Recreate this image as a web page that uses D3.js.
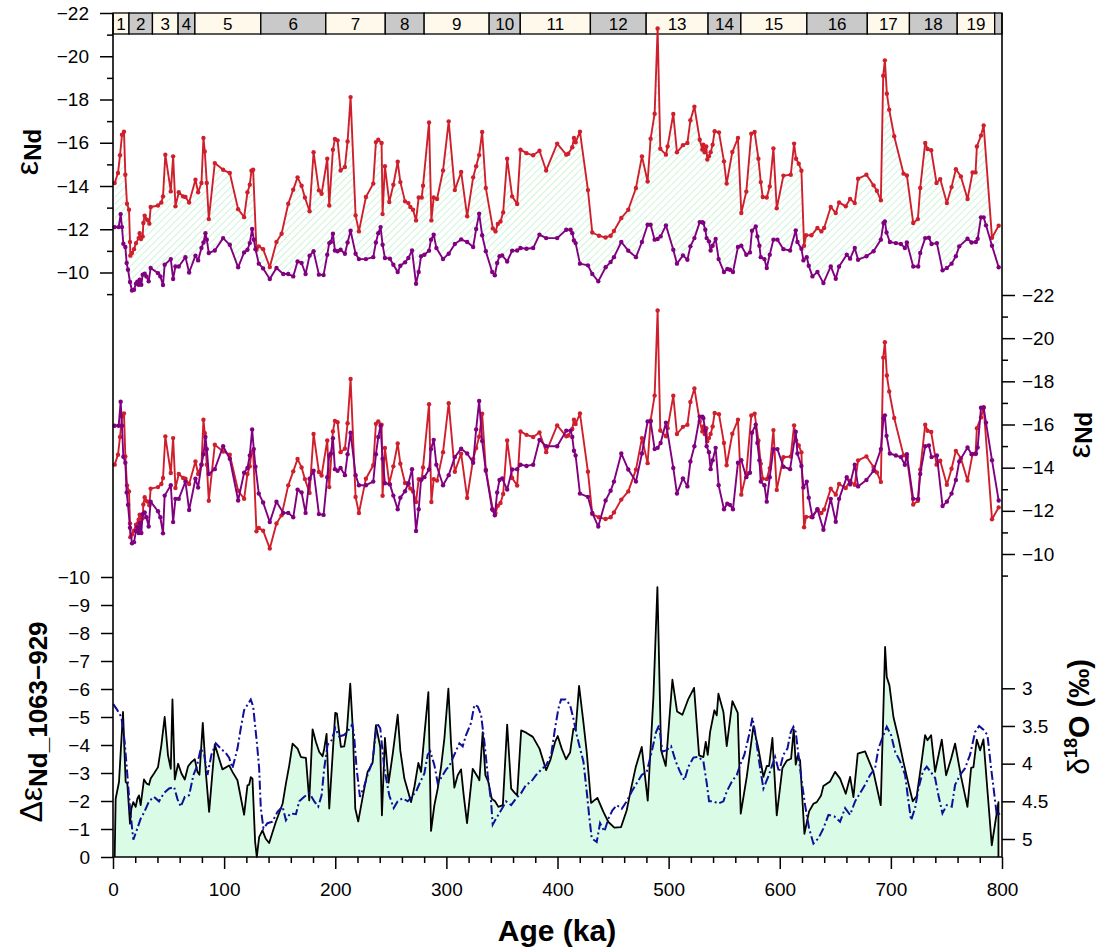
<!DOCTYPE html>
<html>
<head>
<meta charset="utf-8">
<script src="https://cdn.jsdelivr.net/npm/d3@7"></script>
<style>
  body { margin: 0; background: #fff; }
  svg { display: block; }
</style>
</head>
<body>
<svg id="chart" width="1099" height="949"></svg>
<script>
// Marine isotope stages (ka boundaries) and their labels
const misBounds = [0, 14.4, 35.5, 58.6, 73.7, 133, 191.5, 245, 280, 338.5, 366.5, 429.6, 479.8, 535.5, 565, 624.4, 678.8, 716.7, 759.7, 793.4, 800];
const misLabels = ['1','2','3','4','5','6','7','8','9','10','11','12','13','14','15','16','17','18','19',''];

// Site 1063 eNd  [age ka, eNd]
const red1063 = [[1.5,-14.14],[4.5,-14.6],[6.3,-15.42],[8.1,-16.37],[9.9,-16.51],[11.1,-14.52],[12.6,-13.18],[14.4,-12.9],[15.3,-11.41],[15.6,-10.78],[17.1,-10.9],[18.9,-11.08],[20.7,-11.36],[23.1,-11.59],[24,-11.82],[25.2,-11.55],[26.7,-11.67],[27.3,-12.29],[28.5,-12.63],[30.6,-12.44],[32.7,-12.26],[33.9,-13.03],[40.5,-13.1],[43.5,-13.24],[45,-13.52],[47.1,-15.45],[52,-13.75],[54.1,-15.37],[56.2,-13.06],[59.2,-13.71],[63.1,-13.52],[65.2,-13.49],[68.5,-13.24],[74.2,-14.29],[76.6,-13.71],[79.6,-14.14],[81.4,-16.22],[82.6,-15.6],[84.4,-14.14],[86.2,-12.47],[91.6,-15.06],[99.1,-14.75],[105.1,-14.6],[112.6,-12.93],[118,-12.56],[121,-13.71],[123.1,-14.06],[124.6,-14.71],[126.1,-14.75],[129.1,-11.05],[131.2,-11.21],[135.1,-11.08],[141.1,-10.25],[147.1,-11.41],[151.7,-11.79],[157.7,-13.18],[162.2,-13.83],[166.1,-14.4],[169.7,-14.01],[172.7,-13.47],[176.9,-12.83],[180.5,-15.56],[185.3,-13.8],[187.7,-13.64],[192.8,-15.26],[194.6,-13.1],[197.9,-15.68],[199.7,-16.17],[202.1,-16.11],[204.8,-14.72],[208.7,-14.88],[211.1,-16.06],[213.8,-18.11],[218.3,-12.64],[221.3,-11.9],[227.6,-13.49],[234.2,-14.11],[236.6,-16.03],[238.7,-16.14],[241.7,-15.99],[242.6,-12.7],[244.7,-14.91],[248.6,-13.26],[252.3,-14.06],[256.2,-15.12],[258.6,-14.18],[262.8,-13.29],[265.8,-13.21],[267.6,-13.03],[270,-12.9],[272.7,-12.41],[275.1,-13.47],[277.8,-13.47],[279,-14.01],[284.4,-16.94],[286.5,-12.41],[288.6,-13.47],[291.6,-13.4],[297,-14.72],[302.1,-16.99],[307.6,-13.81],[313.3,-14.65],[318.7,-12.6],[324.1,-14.4],[326.8,-14.91],[329.5,-15.43],[332.2,-16.5],[335.5,-13.91],[341.8,-12.04],[344.2,-11.9],[346.3,-12.24],[348.7,-12.36],[351.1,-12.78],[354.7,-15.26],[359.2,-13.52],[363.7,-13.17],[366.7,-15.68],[372.1,-15.52],[378.1,-15.42],[383.8,-15.63],[389.8,-14.72],[399.7,-15.96],[407.9,-15.45],[409.7,-15.49],[413.3,-15.79],[414.8,-16.22],[416.3,-16.02],[420.2,-16.51],[427.4,-13.81],[431.3,-11.85],[437.3,-11.7],[443.3,-11.62],[447.8,-11.7],[450.8,-11.92],[457.4,-12.52],[463.7,-12.9],[470.6,-13.91],[476,-15.37],[481.1,-14.21],[483.8,-16.19],[487.4,-17.34],[490.1,-21.28],[492.5,-15.72],[497.6,-15.45],[499.1,-15.83],[504.2,-17.33],[507.5,-15.56],[512.9,-15.89],[516.9,-15.99],[519.6,-17.04],[523.2,-17.67],[528,-16.14],[530.3,-15.68],[531.2,-15.91],[532.4,-15.56],[533.9,-15.83],[534.8,-15.22],[536.3,-15.37],[537.8,-15.56],[539.6,-15.91],[541.4,-16.53],[545.3,-16.48],[549.8,-15.14],[552.2,-14.11],[557.3,-15.57],[562.4,-16.22],[565.4,-12.75],[569.9,-13.74],[574.4,-16.42],[577.4,-16.5],[580.8,-15.26],[582.9,-14.18],[584.7,-13.49],[588.3,-13.47],[591,-13.98],[594.3,-15.74],[597.3,-12.97],[603.3,-14.48],[609.9,-14.52],[612.9,-15.96],[614.7,-15.26],[617.1,-15.03],[619.5,-14.71],[621.9,-11.24],[623.7,-11.72],[628.5,-11.72],[633.9,-12.06],[637.5,-11.9],[639.9,-12.06],[645.9,-13.03],[650.4,-12.75],[653.4,-13.24],[659.4,-13.06],[663.3,-13.4],[667.5,-13.21],[670.5,-14.34],[678,-14.52],[684.4,-14.03],[687.4,-13.78],[691,-13.34],[693.1,-19.1],[694.6,-19.81],[696.4,-18.27],[698.5,-17.53],[703,-16.3],[711.4,-14.57],[714.4,-14.49],[720.1,-12.29],[724.3,-12.47],[726.4,-13.91],[730.9,-15.99],[733,-15.71],[736.3,-15.65],[741.1,-14.14],[744.4,-14.32],[750.4,-13.21],[754.6,-13.95],[758.5,-14.78],[763,-14.44],[769,-13.4],[773.5,-14.63],[776.2,-14.63],[777.4,-15.83],[781.1,-16.33],[783.5,-16.8],[791,-11.61],[797,-12.16]];

// Site 929 eNd  [age ka, eNd]
const purple929 = [[1.5,-12.1],[5.1,-12.1],[6.9,-12.7],[8.1,-12.1],[9.3,-11.33],[11.1,-11.18],[12.3,-10.44],[13.5,-10.13],[15.3,-9.56],[17.1,-9.17],[18.9,-9.2],[20.7,-9.48],[21.9,-9.57],[23.1,-9.43],[24,-9.67],[25.5,-9.43],[26.7,-9.9],[28.5,-9.94],[30,-9.82],[32.1,-9.59],[33.9,-10.21],[40.5,-9.97],[42.6,-9.82],[45,-9.42],[46.5,-10.36],[52,-10.62],[54.1,-9.7],[56.2,-10.28],[59.2,-10.28],[65.2,-10.71],[68.5,-10],[74.2,-10.78],[76.6,-10.56],[79.6,-11.13],[81.4,-11.39],[83.2,-11.82],[84.4,-11.52],[86.2,-10.9],[91.6,-11.02],[99.1,-11.59],[105.1,-11.28],[112.6,-10.24],[118,-10.93],[121,-11.05],[123.1,-11.36],[125.2,-12.01],[126.7,-11.52],[128.2,-11.08],[131.2,-10.41],[135.1,-10.19],[141.1,-9.7],[147.1,-10.21],[153.2,-9.93],[157.7,-9.93],[162.2,-9.82],[166.1,-10.51],[169.7,-10.44],[173.3,-9.93],[176.9,-10.78],[180.5,-10.98],[185.3,-9.9],[189.5,-9.88],[192.8,-10.82],[194.6,-11.36],[196.1,-11.41],[197.9,-11.79],[199.7,-11.02],[202.1,-10.98],[204.8,-11.05],[208.7,-10.87],[211.1,-11.39],[213.8,-11.93],[218.3,-10.87],[221.3,-10.62],[227.6,-10.62],[234.2,-10.71],[236.6,-11.39],[238.7,-11.82],[240.8,-12.1],[242.6,-11.28],[244.7,-10.67],[249.2,-10.64],[252.3,-10.36],[256.2,-10.02],[258.6,-10.31],[262.8,-10.47],[265.8,-10.67],[269.1,-11.02],[272.7,-9.48],[275.1,-10.02],[277.2,-10.75],[280.2,-10.82],[284.4,-11.01],[286.2,-11.52],[288.6,-11.75],[291,-11.13],[297,-10.62],[302.1,-10.87],[307.6,-11.32],[313.3,-11.53],[318.7,-11.41],[324.1,-11.18],[326.8,-12.01],[329.5,-12.72],[332.2,-11.72],[335.5,-10.98],[341.2,-10.02],[343.6,-9.87],[345.7,-10.44],[347.8,-10.75],[350.2,-10.79],[354.7,-10.51],[359.2,-11.01],[363.7,-11.02],[366.7,-11.13],[372.1,-11.1],[378.1,-11.13],[383.8,-11.75],[389.8,-11.59],[399.7,-11.59],[407.9,-11.98],[411.8,-11.98],[413.3,-11.82],[414.8,-11.48],[416.3,-11.36],[420.2,-10.41],[427.4,-10.33],[431.3,-9.93],[436.7,-9.59],[443.3,-10.24],[447.8,-10.48],[450.8,-10.71],[457.4,-11.41],[463.7,-11.01],[470.6,-10.71],[476,-11.41],[481.1,-12.21],[483.8,-12.21],[487.4,-11.52],[490.1,-11.55],[492.8,-11.67],[497.6,-12.18],[504.2,-11.05],[507.5,-10.41],[512.9,-10.79],[516.9,-10.59],[519.6,-11.21],[523.2,-11.59],[528,-12.33],[530.4,-12.33],[531.2,-12.29],[533,-11.98],[534.2,-11.59],[536.3,-11.44],[537.8,-11.02],[539.6,-11.24],[542.3,-11.55],[545,-10.62],[549.8,-10.02],[552.8,-10.16],[555.2,-10.13],[557.9,-10.02],[562.4,-11.18],[565.4,-11.24],[569.9,-10.82],[573.2,-10.93],[575,-11.93],[578.4,-12.13],[579.9,-11.67],[581.7,-11.24],[582.9,-10.71],[586.2,-10.62],[588.3,-10.21],[591,-10.82],[594.3,-11.52],[597.9,-11.52],[603.3,-11.08],[609.3,-11.02],[614.4,-11.95],[615.9,-11.41],[619.5,-11.1],[621.3,-10.56],[624.3,-10.71],[626.1,-10.31],[629.4,-9.82],[633.9,-10.02],[639.3,-9.51],[645.9,-10.28],[650.4,-9.71],[653.4,-10.28],[660.3,-10.82],[663.3,-10.64],[667.5,-11.13],[670.5,-10.59],[678,-10.75],[684.4,-10.98],[691,-11.52],[693.4,-12.29],[694.6,-12.36],[696.1,-11.85],[699.1,-11.41],[704.5,-11.36],[709,-11.32],[712.6,-11.13],[714.4,-11.39],[720.1,-10.28],[724.6,-10.28],[726.4,-10.9],[730.9,-11.59],[734.2,-11.61],[736.6,-11.32],[741.4,-11.36],[746.5,-10.1],[750.4,-10.21],[754.6,-10.41],[758.5,-10.75],[761.5,-11.21],[769,-11.56],[772.6,-11.39],[776.5,-11.41],[778.1,-11.56],[781.1,-12.55],[783.5,-12.55],[785.6,-12.18],[791,-11.24],[797,-10.24]];

// Delta eNd 1063-929  [age ka, delta]
const delta1063929 = [[1.5,0],[2.4,-2.08],[5.4,-2.68],[9,-5.18],[11.4,-2.68],[12.9,-2.62],[15.3,-1.19],[16.5,-1.73],[18.3,-1.96],[20.4,-1.79],[21.9,-2.08],[23.4,-2.2],[24.9,-1.85],[27.9,-2.77],[30.3,-2.62],[32.4,-2.58],[33.9,-2.8],[36.9,-2.98],[40.5,-3.21],[43.5,-3.99],[46.5,-5],[49.5,-3.63],[52,-3.15],[53.5,-5.63],[55.6,-2.77],[58.6,-3.33],[61.6,-2.98],[64.6,-2.77],[67.6,-3.24],[70.6,-3.39],[73.6,-3.49],[76,-3.04],[77.8,-2.94],[80.8,-4.79],[83.5,-3.04],[86.5,-1.61],[91.6,-4.02],[95.5,-3.51],[98.5,-3.13],[104.5,-3.27],[107.5,-3.04],[112,-2.74],[118,-1.51],[121,-2.56],[122.5,-2.58],[124,-2.85],[125.5,-2.8],[127.9,-0.54],[129.4,0],[131.5,-0.71],[134.5,-0.95],[137.5,-0.65],[140.5,-0.5],[146.5,-1.25],[152.6,-1.9],[155.6,-2.62],[158.6,-3.27],[161.6,-4.05],[166.1,-3.87],[169.1,-3.57],[173.6,-3.54],[176.6,-2.02],[179.6,-4.56],[182.6,-4.11],[185.6,-3.75],[188.6,-3.6],[190.1,-3.87],[192.2,-4.4],[194.6,-1.73],[197.6,-3.63],[200,-5.15],[201.5,-5.12],[205.1,-3.93],[208.1,-3.95],[210.5,-4.52],[213.5,-6.19],[215.9,-4.52],[218,-1.73],[220.7,-1.27],[225.5,-2.32],[229.1,-3.04],[233.6,-3.36],[236.6,-4.7],[240.5,-3.93],[242,-1.49],[244.7,-4.25],[248,-2.65],[251.7,-3.67],[256.2,-5.08],[258.6,-3.79],[262.2,-2.8],[268.2,-1.96],[271.2,-2.5],[274.8,-3.36],[277.2,-3.04],[280.2,-4.35],[283.8,-5.89],[286.2,-0.93],[289.2,-1.85],[292.2,-2.44],[295.2,-3.21],[298.2,-4.23],[301.8,-6.01],[304.2,-4.05],[307.2,-2.48],[310.2,-2.92],[313.2,-3.13],[315.6,-2.2],[318.6,-1.21],[323.7,-3.15],[328.2,-2.86],[329.7,-2.74],[332.7,-4.46],[335.1,-2.92],[337.8,-2.68],[340.8,-2.08],[343.8,-1.99],[346.8,-1.79],[350.8,-1.85],[354.7,-4.73],[358.3,-2.44],[361.3,-2.3],[363.7,-2.2],[367.3,-4.52],[371.8,-4.44],[377.8,-4.29],[383.8,-3.87],[389.8,-3.1],[393.7,-3.48],[397.8,-4.11],[400.2,-4.32],[403.8,-3.87],[407.7,-3.49],[411.3,-3.73],[414.3,-4.58],[416.4,-4.56],[419.4,-6.11],[423.3,-4.82],[426.3,-3.75],[430.2,-1.93],[435.9,-2.11],[441.3,-1.61],[445.8,-1.25],[451.2,-1.05],[457.2,-1.07],[462.3,-1.67],[466.2,-2.44],[470.4,-3.21],[475.8,-3.93],[481.2,-2.01],[486.3,-5.71],[489.9,-9.64],[493.2,-3.81],[497.4,-3.25],[503.4,-6.33],[507.6,-5.2],[512.4,-5.08],[517.8,-5.65],[522.9,-6.04],[527.4,-3.63],[531.3,-3.57],[533.4,-4.11],[535.2,-3.65],[537.3,-4.46],[541.2,-5.24],[543.3,-5.06],[544.8,-5.83],[549.3,-5.18],[552.3,-3.96],[557.4,-5.57],[562.2,-5.15],[564.9,-1.55],[570.3,-2.86],[576.3,-4.67],[580.8,-3.87],[585.3,-2.86],[588.3,-3.25],[590.4,-3.25],[593.4,-4.25],[597.3,-1.49],[602.4,-3.18],[606.3,-3.44],[610.2,-3.51],[612.6,-4.56],[614.4,-3.3],[616.2,-3.63],[618.3,-3.45],[622.2,-0.83],[626.4,-1.63],[630.3,-1.9],[633.3,-1.96],[637.2,-2.2],[639.3,-2.54],[645.3,-2.7],[649.8,-3.04],[654.3,-2.8],[659.4,-2.26],[663.3,-2.86],[666.3,-2.14],[670.2,-3.69],[676.8,-3.77],[684.3,-3.04],[690.9,-1.85],[694.8,-7.5],[696.3,-6.43],[698.7,-6.13],[702.3,-5],[706.8,-4.25],[711.3,-3.39],[715.8,-2.62],[719.7,-1.99],[723.3,-2.18],[727.2,-3.27],[730.8,-4.35],[732.9,-4.17],[736.2,-4.35],[739.8,-3.04],[745.8,-4.19],[749.7,-2.92],[754.2,-3.51],[757.8,-4.05],[763.2,-2.86],[768.9,-1.79],[772.2,-3.18],[774.3,-3.21],[777.3,-4.19],[780.3,-3.81],[783.3,-4.2],[786.3,-2.68],[790.8,-0.42],[793.8,-1.19],[796.8,-1.96],[796.8,0]];

// benthic d18O stack  [age ka, permil]
const d18O = [[0.3,3.21],[3.9,3.29],[7.5,3.38],[10.5,3.71],[12.9,4.15],[15.3,4.59],[18.3,5.01],[21.9,4.86],[24.9,4.73],[27.9,4.65],[32.4,4.5],[36.9,4.44],[41.4,4.5],[45.9,4.39],[50.5,4.33],[55,4.31],[58,4.47],[61,4.57],[64.6,4.44],[68.5,4.42],[72.4,4.15],[75.4,4.04],[79,3.8],[82,3.88],[85,4.15],[88.6,3.88],[92.5,3.73],[97,3.8],[101.5,3.86],[104.5,3.92],[107.5,4.06],[112,3.8],[115,3.53],[118,3.29],[121,3.22],[124,3.15],[126.1,3.24],[129.4,3.71],[131.5,4.06],[133,4.59],[135.4,4.86],[139,4.79],[143.5,4.77],[148,4.64],[152.6,4.57],[155.6,4.75],[159.5,4.66],[164.6,4.67],[167.6,4.5],[172.1,4.44],[176.6,4.39],[181.1,4.5],[184.7,4.57],[187.7,4.42],[190.1,4.06],[193.1,3.75],[196.7,3.69],[200,3.53],[203.6,3.64],[207.8,3.62],[210.8,3.58],[215.3,3.48],[216.8,3.6],[219.2,4.06],[222.2,4.44],[225.8,4.31],[229.1,4.15],[233.6,3.97],[237.5,3.46],[240.5,3.53],[244.1,4.06],[248.6,4.42],[252.6,4.59],[256.2,4.5],[260.7,4.46],[265.2,4.5],[268.2,4.45],[272.7,4.37],[276.6,4.24],[280.2,4.13],[283.2,3.88],[285.6,3.84],[289.2,4.02],[292.2,4.26],[295.2,4.19],[299.7,4.08],[302.7,4.03],[307.2,3.88],[311.7,3.73],[314.7,3.77],[317.7,3.62],[322.2,3.46],[325.2,3.22],[328.2,3.24],[331.2,3.35],[334.2,3.71],[337.2,4.15],[340.2,4.5],[341.7,4.81],[344.7,4.73],[349.2,4.62],[353.7,4.5],[358.3,4.55],[362.8,4.46],[367.3,4.39],[371.8,4.28],[376.3,4.24],[380.8,4.15],[385.3,4.08],[389.8,4.02],[394.3,3.88],[397.8,3.53],[400.8,3.27],[403.2,3.15],[407.4,3.15],[411.3,3.22],[414.3,3.4],[417.3,3.62],[420.3,3.8],[423.3,3.97],[426.3,4.37],[428.4,4.68],[430.8,4.99],[435.3,5.04],[438.3,4.79],[442.2,4.9],[445.8,4.73],[449.4,4.62],[453.3,4.55],[457.8,4.6],[462.3,4.5],[466.8,4.37],[471.3,4.26],[475.8,4.15],[480.3,4.11],[484.8,3.84],[488.7,3.58],[491.4,3.49],[494.4,3.84],[498.3,3.82],[502.2,3.77],[506.4,3.97],[510.3,4.11],[514.2,4.22],[517.8,4.04],[522.3,3.92],[526.8,3.91],[531.3,3.97],[534.3,4.26],[536.4,4.5],[540.3,4.5],[544.8,4.53],[549.3,4.5],[552.3,4.37],[556.8,4.24],[561.3,4.15],[564.3,4.02],[568.2,3.88],[572.4,3.62],[575.4,3.39],[577.8,3.58],[581.4,3.97],[585.3,4.33],[589.2,4.19],[592.8,4.04],[595.8,3.91],[599.4,4.11],[603.3,3.88],[606.9,3.8],[609.9,3.58],[612.3,3.51],[614.4,3.58],[616.8,3.88],[619.8,4.24],[622.8,4.55],[626.4,4.86],[630.3,5.06],[634.8,4.99],[639.3,4.86],[643.8,4.68],[649.2,4.7],[654.3,4.77],[658.8,4.59],[663.3,4.68],[667.8,4.5],[672.3,4.39],[676.8,4.28],[681.3,4.15],[685.8,4.06],[688.8,3.8],[693.3,3.62],[696.3,3.51],[700.2,3.62],[703.8,3.84],[708.3,3.97],[712.8,4.15],[715.8,4.5],[718.2,4.75],[721.8,4.59],[724.8,4.33],[728.7,4.11],[732.3,4.04],[735.9,4.11],[739.8,4.19],[742.8,4.42],[746.4,4.66],[750.3,4.55],[754.8,4.57],[757.8,4.28],[762.3,4.15],[766.8,4.06],[771.3,3.88],[775.8,3.58],[779.4,3.5],[783.3,3.55],[786.9,3.62],[790.2,4.06],[793.2,4.42],[795.3,4.68],[798.3,4.66],[800,4.68]];

// tick values
const ageTicks = [0, 100, 200, 300, 400, 500, 600, 700, 800];
const epsTicks = [-22, -20, -18, -16, -14, -12, -10];
const epsMinorTicks = [-21, -19, -17, -15, -13, -11, -9];
const deltaTicks = [-10, -9, -8, -7, -6, -5, -4, -3, -2, -1, 0];
const d18Ticks = [3, 3.5, 4, 4.5, 5];

const font = 'Arial, "Liberation Sans", sans-serif';
const RED = '#d01f2c';
const PURPLE = '#800080';
const BLUE = '#0f0f98';

const svg = d3.select('#chart').attr('font-family', font);

const x = d3.scaleLinear().domain([0, 800]).range([113, 1002]);
const yTop = d3.scaleLinear().domain([-22, -10]).range([13, 272.5]);
const yMidRed = d3.scaleLinear().domain([-22, -10]).range([295, 554]);
const yMidPurple = d3.scaleLinear().domain([-15.36, -8.93]).range([295, 553]);
const yDelta = d3.scaleLinear().domain([-10, 0]).range([577, 857]);
const yD18 = d3.scaleLinear().domain([3, 5]).range([688.3, 839]);

// hatch pattern for the top panel
const defs = svg.append('defs');
defs.append('pattern')
  .attr('id', 'hatch')
  .attr('patternUnits', 'userSpaceOnUse')
  .attr('width', 5)
  .attr('height', 5)
  .attr('patternTransform', 'rotate(45)')
  .append('line')
  .attr('x1', 0).attr('y1', 0).attr('x2', 0).attr('y2', 5)
  .attr('stroke', '#b3eec6')
  .attr('stroke-width', 1.3);

// MIS band
const band = svg.append('g');
misLabels.forEach((label, i) => {
  const x0 = x(misBounds[i]);
  const x1 = x(misBounds[i + 1]);
  band.append('rect')
    .attr('x', x0).attr('y', 13)
    .attr('width', x1 - x0).attr('height', 21)
    .attr('fill', i % 2 === 0 ? '#fff9ec' : '#c9c9c9')
    .attr('stroke', '#000')
    .attr('stroke-width', 1.3);
  if (label) {
    band.append('text')
      .attr('x', (x0 + x1) / 2).attr('y', 30)
      .attr('text-anchor', 'middle')
      .attr('font-size', 17)
      .text(label);
  }
});

// top panel: hatched area between the two records
const topPts = red1063.map((d) => [x(d[0]), yTop(d[1])])
  .concat(purple929.slice().reverse().map((d) => [x(d[0]), yTop(d[1])]));
svg.append('path')
  .attr('d', d3.line()(topPts) + 'Z')
  .attr('fill', 'url(#hatch)')
  .attr('stroke', 'none');

function drawSeries(data, yScale, color) {
  const g = svg.append('g');
  g.append('path')
    .datum(data)
    .attr('d', d3.line().x((d) => x(d[0])).y((d) => yScale(d[1])))
    .attr('fill', 'none')
    .attr('stroke', color)
    .attr('stroke-width', 1.9)
    .attr('stroke-linejoin', 'round');
  g.selectAll('circle')
    .data(data)
    .join('circle')
    .attr('cx', (d) => x(d[0]))
    .attr('cy', (d) => yScale(d[1]))
    .attr('r', 2.2)
    .attr('fill', color);
}

drawSeries(red1063, yTop, RED);
drawSeries(purple929, yTop, PURPLE);
drawSeries(red1063, yMidRed, RED);
drawSeries(purple929, yMidPurple, PURPLE);

// bottom panel
svg.append('path')
  .datum(delta1063929)
  .attr('d', d3.area().x((d) => x(d[0])).y0(yDelta(0)).y1((d) => yDelta(d[1])))
  .attr('fill', '#dafbe6');

svg.append('path')
  .datum(delta1063929)
  .attr('d', d3.line().x((d) => x(d[0])).y((d) => yDelta(d[1])))
  .attr('fill', 'none')
  .attr('stroke', '#000')
  .attr('stroke-width', 1.8)
  .attr('stroke-linejoin', 'round');

svg.append('path')
  .datum(d18O)
  .attr('d', d3.line().x((d) => x(d[0])).y((d) => yD18(d[1])))
  .attr('fill', 'none')
  .attr('stroke', BLUE)
  .attr('stroke-width', 2)
  .attr('stroke-dasharray', '9,3,2,3');

// axes
function styleAxis(g) {
  g.attr('font-family', font).attr('font-size', 19);
  g.select('.domain').remove();
  g.selectAll('.tick line').attr('stroke', '#000').attr('stroke-width', 1.5);
  g.selectAll('.tick text').attr('fill', '#000');
}

svg.append('g').attr('transform', 'translate(113,0)')
  .call(d3.axisLeft(yTop).tickValues(epsTicks).tickSize(13).tickPadding(11))
  .call(styleAxis);
svg.append('g').attr('transform', 'translate(113,0)')
  .call(d3.axisLeft(yTop).tickValues(epsMinorTicks).tickSize(6).tickFormat(''))
  .call(styleAxis);

svg.append('g').attr('transform', 'translate(1002,0)')
  .call(d3.axisRight(yMidRed).tickValues(epsTicks).tickSize(13).tickPadding(7))
  .call(styleAxis);
svg.append('g').attr('transform', 'translate(1002,0)')
  .call(d3.axisRight(yMidRed).tickValues(epsMinorTicks).tickSize(6).tickFormat(''))
  .call(styleAxis);

svg.append('g').attr('transform', 'translate(113,0)')
  .call(d3.axisLeft(yDelta).tickValues(deltaTicks).tickSize(12).tickPadding(11))
  .call(styleAxis);

svg.append('g').attr('transform', 'translate(1002,0)')
  .call(d3.axisRight(yD18).tickValues(d18Ticks).tickSize(13).tickPadding(7).tickFormat(d3.format('')))
  .call(styleAxis);

svg.append('g').attr('transform', 'translate(0,857)')
  .call(d3.axisBottom(x).tickValues(ageTicks).tickSize(12).tickPadding(14))
  .call(styleAxis);
svg.append('g').attr('transform', 'translate(0,857)')
  .call(d3.axisBottom(x).tickValues(d3.range(20, 800, 20).filter((v) => v % 100 !== 0)).tickSize(6).tickFormat(''))
  .call(styleAxis);

// frame lines
svg.append('line').attr('x1', 113).attr('x2', 113).attr('y1', 13).attr('y2', 857)
  .attr('stroke', '#000').attr('stroke-width', 1.6);
svg.append('line').attr('x1', 1002).attr('x2', 1002).attr('y1', 13).attr('y2', 857)
  .attr('stroke', '#000').attr('stroke-width', 1.6);
svg.append('line').attr('x1', 113).attr('x2', 1002).attr('y1', 857).attr('y2', 857)
  .attr('stroke', '#000').attr('stroke-width', 1.6);

// axis titles
function vLabel(cx, cy, build) {
  const t = svg.append('text')
    .attr('transform', `translate(${cx},${cy}) rotate(-90)`)
    .attr('text-anchor', 'middle')
    .attr('fill', '#000');
  build(t);
}

vLabel(38, 152, (t) => {
  t.append('tspan').attr('font-size', 32).text('ε');
  t.append('tspan').attr('font-size', 24).attr('font-weight', 'bold').attr('dy', 3).text('Nd');
});
vLabel(1090, 435, (t) => {
  t.append('tspan').attr('font-size', 32).text('ε');
  t.append('tspan').attr('font-size', 24).attr('font-weight', 'bold').attr('dy', 2).text('Nd');
});
vLabel(42, 722, (t) => {
  t.append('tspan').attr('font-size', 32).text('Δε');
  t.append('tspan').attr('font-size', 26).attr('font-weight', 'bold').attr('dy', 5).text('Nd_1063−929');
});
vLabel(1089, 717, (t) => {
  t.append('tspan').attr('font-size', 30).text('δ');
  t.append('tspan').attr('font-size', 18).attr('font-weight', 'bold').attr('dy', -12).text('18');
  t.append('tspan').attr('font-size', 29).attr('font-weight', 'bold').attr('dy', 12).text('O (‰)');
});

svg.append('text')
  .attr('x', 557).attr('y', 941)
  .attr('text-anchor', 'middle')
  .attr('font-size', 30)
  .attr('font-weight', 'bold')
  .text('Age (ka)');
</script>
</body>
</html>
